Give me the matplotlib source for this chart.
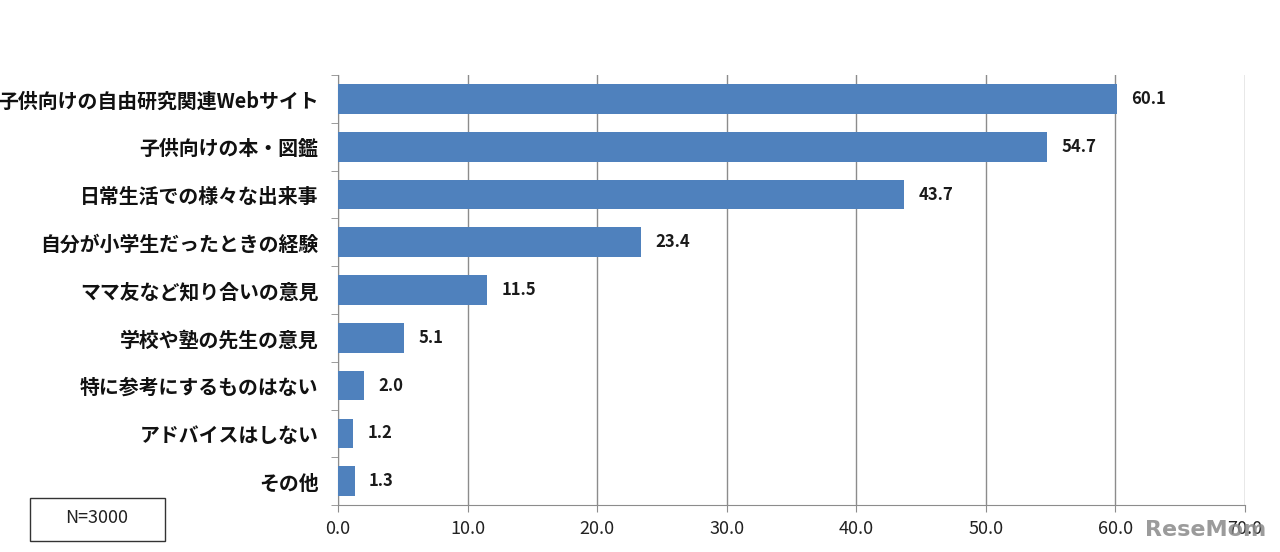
import matplotlib
matplotlib.use("Agg")
from matplotlib import pyplot as plt
from matplotlib.patches import Rectangle
import numpy as np

plt.rcParams['font.family'] = ['Noto Sans CJK JP', 'DejaVu Sans']

categories = [
    "子供向けの自由研究関連Webサイト",
    "子供向けの本・図鑑",
    "日常生活での様々な出来事",
    "自分が小学生だったときの経験",
    "ママ友など知り合いの意見",
    "学校や塾の先生の意見",
    "特に参考にするものはない",
    "アドバイスはしない",
    "その他",
]
values = [60.1, 54.7, 43.7, 23.4, 11.5, 5.1, 2.0, 1.2, 1.3]
xticks = [0, 10, 20, 30, 40, 50, 60, 70]
sample_label = "N=3000"

bar_color = "#4F81BD"
grid_color = "#8C8C8C"

fig = plt.figure(figsize=(12.8, 5.52), dpi=100)
ax = fig.add_axes([0.264, 0.085, 0.7087, 0.779])

y = np.arange(len(categories))
ax.barh(y, values, height=0.62, color=bar_color, zorder=3)

for yi, v in zip(y, values):
    ax.text(v + 1.1, yi, f"{v:.1f}", va="center", ha="left",
            fontsize=12, fontweight="bold", color="#1a1a1a")

ax.set_ylim(len(categories) - 0.5, -0.5)
ax.set_xlim(0, 70)
ax.set_xticks(xticks)
ax.set_xticklabels([f"{t:.1f}" for t in xticks], fontsize=13, color="#222222")
ax.set_yticks(y)
ax.set_yticklabels(categories, fontsize=14.3, fontweight="bold", color="#111111")
ax.set_yticks(np.arange(len(categories) + 1) - 0.5, minor=True)

ax.tick_params(axis="y", which="major", length=0, pad=14)
ax.tick_params(axis="y", which="minor", length=5, color=grid_color, direction="out")
ax.tick_params(axis="x", which="major", length=5, color=grid_color, pad=6)

ax.grid(axis="x", color=grid_color, linewidth=1, zorder=0)
for side in ["top", "right"]:
    ax.spines[side].set_visible(False)
ax.spines["left"].set_color(grid_color)
ax.spines["bottom"].set_color(grid_color)

# N box
fig.patches.append(Rectangle((30 / 1280, 1 - 541 / 552), 135 / 1280, 43 / 552,
                             transform=fig.transFigure, fill=False,
                             edgecolor="#333333", linewidth=1))
fig.text(97 / 1280, 1 - 518 / 552, sample_label, ha="center", va="center",
         fontsize=13, color="#222222")

# watermark
fig.text(1266 / 1280, 1 - 530 / 552, "ReseMom", ha="right", va="center",
         fontsize=16, fontweight="bold", color="#8a8a8a", alpha=0.85,
         family="DejaVu Sans")

fig.savefig("out.png", dpi=100)
